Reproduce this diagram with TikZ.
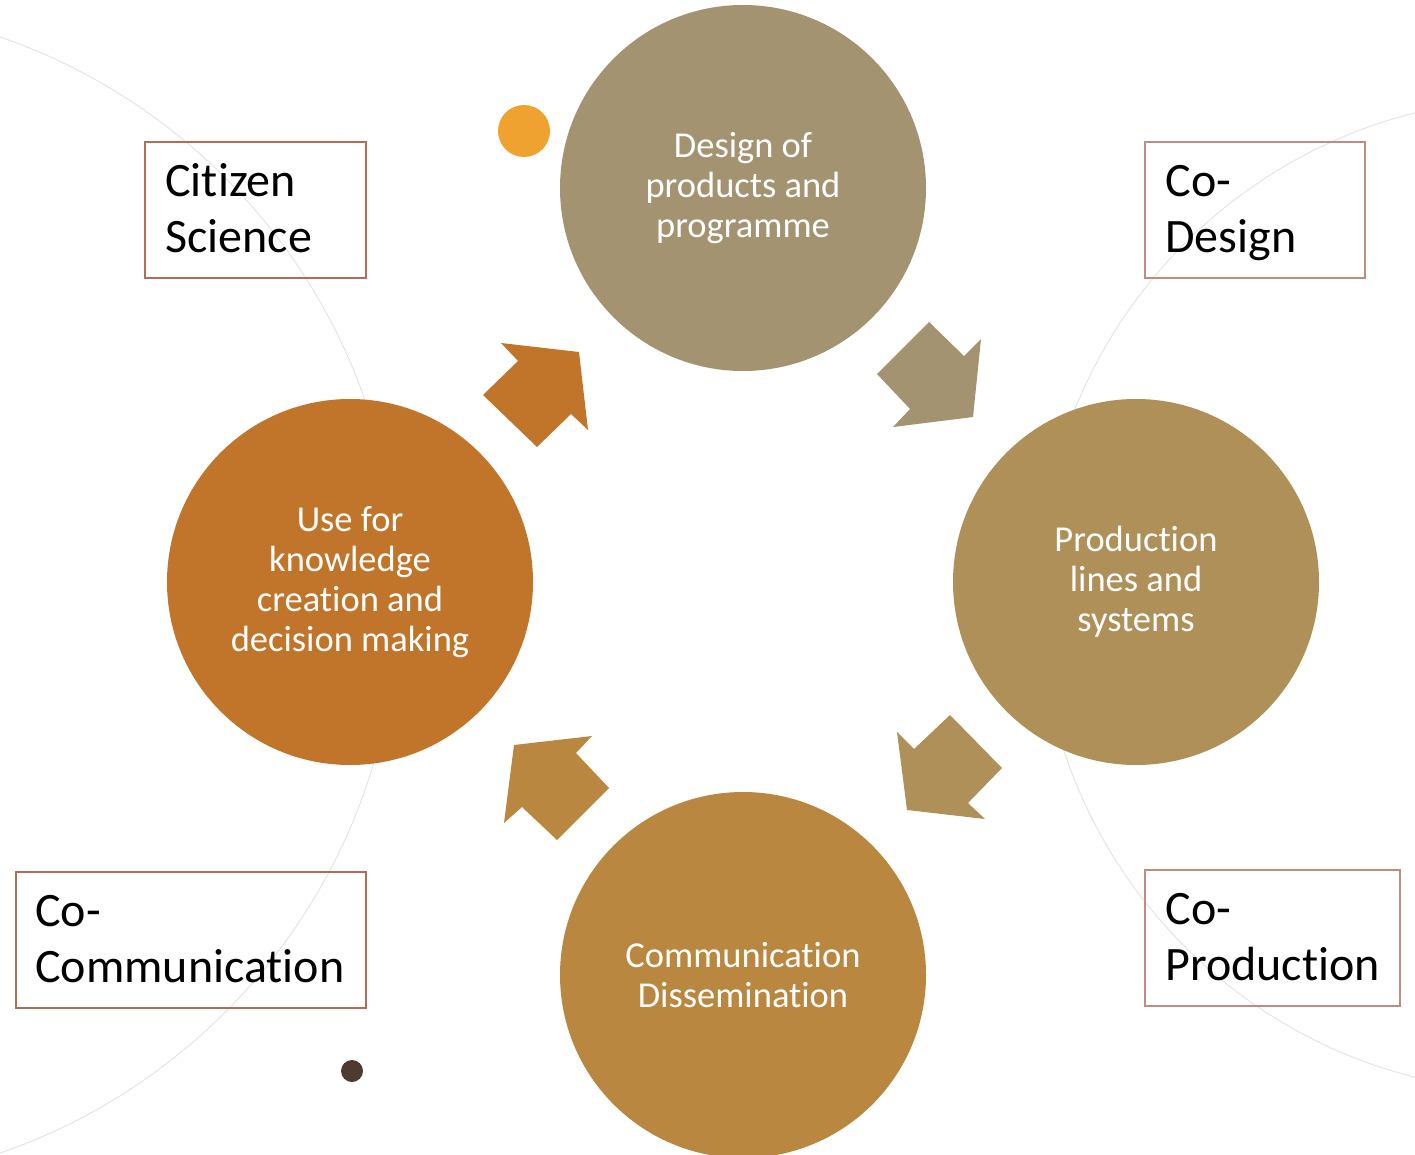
\documentclass[tikz,border=0pt]{standalone}
\usepackage{fontspec}
\setmainfont{Carlito}[RawFeature=-liga]
\definecolor{cTop}{HTML}{A39371}
\definecolor{cRight}{HTML}{AF9059}
\definecolor{cBottom}{HTML}{B9873F}
\definecolor{cLeft}{HTML}{C0752A}
\definecolor{cDot}{HTML}{F0A230}
\definecolor{cDark}{HTML}{4E3B30}
\definecolor{bordA}{HTML}{B36C57}
\definecolor{bordB}{HTML}{BA8E82}
\definecolor{arcgray}{HTML}{E2E2E2}
\begin{document}
\begin{tikzpicture}[x=1pt,y=-1pt,
  stage/.style={circle, inner sep=0pt, minimum size=366pt, text=white, align=center,
    font=\fontsize{36.5}{40}\selectfont},
  labelbox/.style={draw, line width=1.6pt, inner sep=0pt},
  boxtext/.style={inner sep=0pt, anchor=base west, text=black,
    font=\fontsize{48}{56}\selectfont},
  faint/.style={draw=arcgray, line width=0.9pt}]
\useasboundingbox (0,0) rectangle (1415,1155);
\clip (0,0) rectangle (1415,1155);
% faint background arcs
\draw[faint] (-192,595) circle[radius=590];
\draw[faint] (1536,595) circle[radius=497];
% stages
\node[stage, fill=cTop] (design) at (743,188) {Design of\\products and\\programme};
\node[stage, fill=cRight] (prod) at (1136,582) {Production\\lines and\\systems};
\node[stage, fill=cBottom] (comm) at (743,975) {Communication\\Dissemination};
\node[stage, fill=cLeft] (use) at (350,582) {Use for\\knowledge\\creation and\\decision making};
% block arrows
\fill[cTop] (929,322) -- (964,356) -- (981,339) -- (973,417) -- (893,427) -- (910,409) -- (877,374) -- cycle;
\fill[cRight] (897,732) -- (914,749) -- (950,715) -- (1002,768) -- (968,803) -- (985,819) -- (907,810) -- cycle;
\fill[cBottom] (592,736) -- (576,753) -- (609,788) -- (557,840) -- (522,807) -- (504,823) -- (514,745) -- cycle;
\fill[cLeft] (501,343) -- (579,352) -- (588,430) -- (571,414) -- (537,447) -- (483,395) -- (518,361) -- cycle;
% dots
\fill[cDot] (524,131) circle[radius=26];
\fill[cDark] (352,1071) circle[radius=11];
% label boxes
\node[labelbox, draw=bordA, minimum width=221pt, minimum height=136pt] (cs) at (255.5,210) {};
\node[boxtext] (cs1) at ([xshift=21pt,yshift=-55pt]cs.north west) {Citizen};
\node[boxtext] (cs2) at ([xshift=21pt,yshift=-111pt]cs.north west) {Science};
\node[labelbox, draw=bordB, minimum width=220pt, minimum height=136pt] (cd) at (1255,210) {};
\node[boxtext] (cd1) at ([xshift=21pt,yshift=-55pt]cd.north west) {Co-};
\node[boxtext] (cd2) at ([xshift=21pt,yshift=-111pt]cd.north west) {Design};
\node[labelbox, draw=bordB, minimum width=255pt, minimum height=136pt] (cp) at (1272.5,938) {};
\node[boxtext] (cp1) at ([xshift=21pt,yshift=-55pt]cp.north west) {Co-};
\node[boxtext] (cp2) at ([xshift=21pt,yshift=-111pt]cp.north west) {Production};
\node[labelbox, draw=bordA, minimum width=350pt, minimum height=136pt] (cc) at (191,940) {};
\node[boxtext] (cc1) at ([xshift=20pt,yshift=-55pt]cc.north west) {Co-};
\node[boxtext] (cc2) at ([xshift=20pt,yshift=-111pt]cc.north west) {Communication};
\end{tikzpicture}
\end{document}
